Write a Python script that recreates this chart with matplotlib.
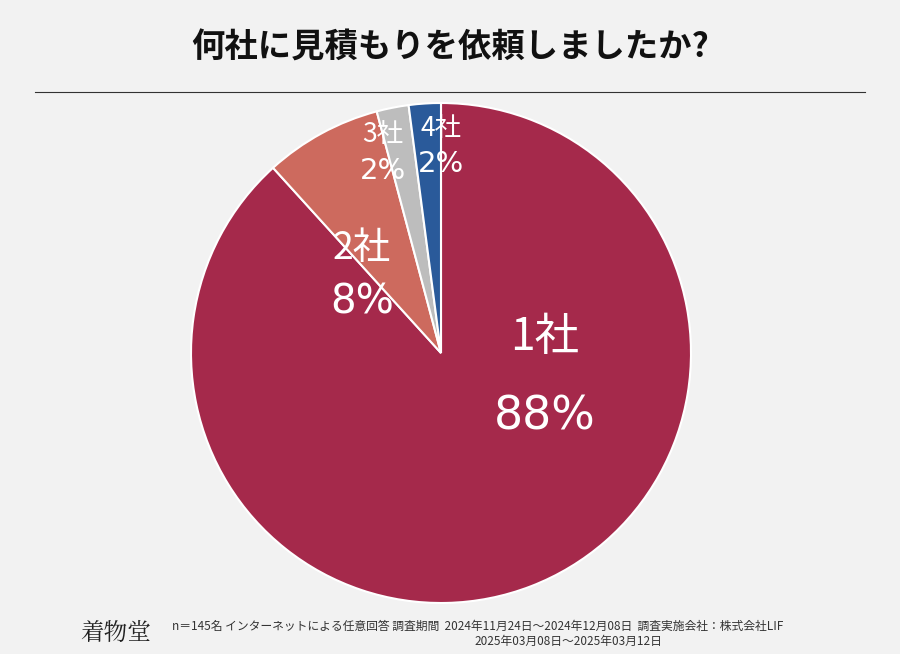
import matplotlib
matplotlib.use("Agg")
import matplotlib.pyplot as plt

plt.rcParams["font.family"] = "Noto Sans CJK JP"

TITLE = "何社に見積もりを依頼しましたか?"
CATEGORIES = ["1社", "2社", "3社", "4社"]
COUNTS = [128, 11, 3, 3]
PERCENT_LABELS = ["88%", "8%", "2%", "2%"]
COLORS = ["#A5294B", "#CD6A5E", "#BDBDBD", "#2A5A9A"]
FOOTER_1 = "n＝145名 インターネットによる任意回答 調査期間  2024年11月24日～2024年12月08日  調査実施会社：株式会社LIF"
FOOTER_2 = "2025年03月08日～2025年03月12日"

W, H = 900, 654
fig = plt.figure(figsize=(W / 100, H / 100), dpi=100)
fig.patch.set_facecolor("#F2F2F2")

fig.text(450 / W, 1 - 48 / H, TITLE, ha="center", va="center", fontsize=24, fontweight="bold", color="#111111")
fig.add_artist(plt.Line2D([35 / W, 865 / W], [1 - 92 / H, 1 - 92 / H], color="#333333", lw=0.8))

cx, cy, r = 441, 353, 250
ax = fig.add_axes([(cx - r) / W, 1 - (cy + r) / H, 2 * r / W, 2 * r / H])
ax.pie(COUNTS, colors=COLORS, startangle=90, counterclock=False,
       wedgeprops={"linewidth": 1.5, "edgecolor": "white"})
ax.set_xlim(-1, 1)
ax.set_ylim(-1, 1)
ax.set_aspect("equal")
ax.axis("off")

label_pos = [(545, 337, 417, 32, 33), (362, 248, 302, 27, 29), (383, 135, 171, 19, 21), (441, 128, 164, 19, 21)]
for (x, y1, y2, s1, s2), cat, pct in zip(label_pos, CATEGORIES, PERCENT_LABELS):
    fig.text(x / W, 1 - y1 / H, cat, ha="center", va="center", fontsize=s1, color="white")
    fig.text(x / W, 1 - y2 / H, pct, ha="center", va="center", fontsize=s2, color="white",
             family="DejaVu Sans")

fig.text(80 / W, 1 - 633 / H, "着物堂", ha="left", va="center", fontsize=17, color="#222222",
         family="Noto Serif CJK JP")
fig.text(172 / W, 1 - 626 / H, FOOTER_1, ha="left", va="center", fontsize=8.5, color="#333333")
fig.text(568 / W, 1 - 641 / H, FOOTER_2, ha="center", va="center", fontsize=8.5, color="#333333")

fig.savefig("out.png", dpi=100, facecolor=fig.get_facecolor())
